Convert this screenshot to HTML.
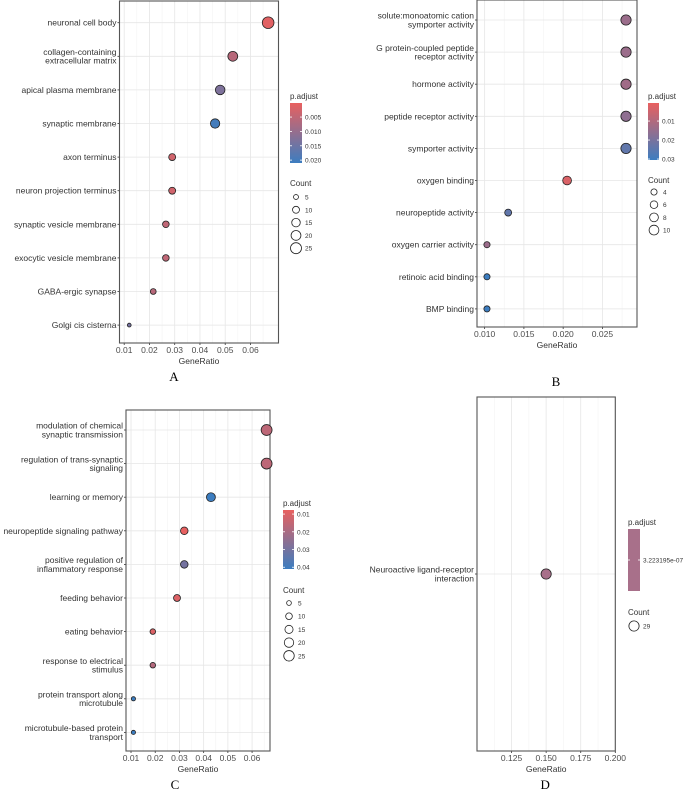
<!DOCTYPE html>
<html><head><meta charset="utf-8"><style>
body{margin:0;background:#fff}
svg{display:block;font-family:"Liberation Sans",Arial,sans-serif}
</style></head><body>
<svg id="fig" width="685" height="791" viewBox="0 0 685 791">
<defs>
<linearGradient id="gA" x1="0" y1="0" x2="0" y2="1"><stop offset="0" stop-color="#E8605F"/><stop offset="1" stop-color="#3C7DC0"/></linearGradient>
</defs>
<rect width="685" height="791" fill="#fff"/>
</svg>
<script>
// ---------- Panel A data ----------
const aTerms = [["neuronal cell body"],["collagen-containing","extracellular matrix"],["apical plasma membrane"],["synaptic membrane"],["axon terminus"],["neuron projection terminus"],["synaptic vesicle membrane"],["exocytic vesicle membrane"],["GABA-ergic synapse"],["Golgi cis cisterna"]];
const aRatio = [0.067,0.053,0.048,0.046,0.029,0.029,0.0265,0.0265,0.0215,0.012];
const aCount = [28,20,19,18,10,10,9,9,7,3];
const aPadj = [0.001,0.006,0.013,0.020,0.003,0.003,0.005,0.005,0.006,0.014];
const aTicks = [0.01,0.02,0.03,0.04,0.05,0.06];
const aTickLabels = ["0.01","0.02","0.03","0.04","0.05","0.06"];
const aCbTicks = [0.005,0.010,0.015,0.020];
const aCbLabels = ["0.005","0.010","0.015","0.020"];
const aSizeLegend = [5,10,15,20,25];
// ---------- Panel B data ----------
const bTerms = [["solute:monoatomic cation","symporter activity"],["G protein-coupled peptide","receptor activity"],["hormone activity"],["peptide receptor activity"],["symporter activity"],["oxygen binding"],["neuropeptide activity"],["oxygen carrier activity"],["retinoic acid binding"],["BMP binding"]];
const bRatio = [0.028,0.028,0.028,0.028,0.028,0.0205,0.013,0.0103,0.0103,0.0103];
const bCount = [11,11,11,11,11,8,5,4,4,4];
const bPadj = [0.014,0.014,0.013,0.016,0.024,0.003,0.024,0.014,0.031,0.031];
const bTicks = [0.010,0.015,0.020,0.025];
const bTickLabels = ["0.010","0.015","0.020","0.025"];
const bCbTicks = [0.01,0.02,0.03];
const bCbLabels = ["0.01","0.02","0.03"];
const bSizeLegend = [4,6,8,10];
// ---------- Panel C data ----------
const cTerms = [["modulation of chemical","synaptic transmission"],["regulation of trans-synaptic","signaling"],["learning or memory"],["neuropeptide signaling pathway"],["positive regulation of","inflammatory response"],["feeding behavior"],["eating behavior"],["response to electrical","stimulus"],["protein transport along","microtubule"],["microtubule-based protein","transport"]];
const cRatio = [0.066,0.066,0.043,0.032,0.032,0.029,0.019,0.019,0.011,0.011];
const cCount = [27,27,18,13,13,11,7,7,4,4];
const cPadj = [0.016,0.016,0.042,0.008,0.030,0.010,0.010,0.018,0.042,0.042];
const cTicks = [0.01,0.02,0.03,0.04,0.05,0.06];
const cTickLabels = ["0.01","0.02","0.03","0.04","0.05","0.06"];
const cCbTicks = [0.01,0.02,0.03,0.04];
const cCbLabels = ["0.01","0.02","0.03","0.04"];
const cSizeLegend = [5,10,15,20,25];
// ---------- Panel D data ----------
const dTerms = [["Neuroactive ligand-receptor","interaction"]];
const dRatio = [0.150];
const dCount = [29];
const dPadj = [3.223195e-07];
const dTicks = [0.125,0.150,0.175,0.200];
const dTickLabels = ["0.125","0.150","0.175","0.200"];
const dCbLabels = ["3.223195e-07"];
const dSizeLegend = [29];

const NS="http://www.w3.org/2000/svg";
const svg=document.getElementById('fig');
function mk(tag,attrs,parent){const e=document.createElementNS(NS,tag);for(const k in attrs)e.setAttribute(k,attrs[k]);(parent||svg).appendChild(e);return e;}
function lerpColor(t){t=Math.max(0,Math.min(1,t));const a=[232,96,95],b=[60,125,192];return 'rgb('+a.map((v,i)=>Math.round(v+(b[i]-v)*t)).join(',')+')';}

function panel(P){
  const g=mk('g',{});
  
  
  const xs=v=>P.x0+(v-P.xmin)/(P.xmax-P.xmin)*(P.x1-P.x0);
  const ys=i=>P.rowFirst+i*P.rowStep;
  // minor grid
  for(let i=0;i<P.ticks.length+1;i++){
    const step=P.ticks.length>1?P.ticks[1]-P.ticks[0]:0.025;
    const v=(i<P.ticks.length?P.ticks[i]:P.ticks[P.ticks.length-1]+step)-step/2;
    const x=xs(v); if(x>P.x0&&x<P.x1){const l=mk('line',{x1:x,x2:x,y1:P.y0,y2:P.y1,stroke:'#f3f3f3','stroke-width':0.6},g);}
  }
  P.ticks.forEach((v,i)=>{
    const x=xs(v);
    const gl=mk('line',{x1:x,x2:x,y1:P.y0,y2:P.y1,stroke:'#e6e6e6','stroke-width':0.8},g);
    
    
    mk('line',{x1:x,x2:x,y1:P.y1,y2:P.y1+2,stroke:'#333','stroke-width':0.8},g);
    const t=mk('text',{x:x,y:P.y1+10,'font-size':8.5,fill:'#4d4d4d','text-anchor':'middle'},g);
    t.textContent=P.tickLabels[i];
    
    
  });
  P.terms.forEach((lines,i)=>{
    const y=ys(i);
    mk('line',{x1:P.x0,x2:P.x1,y1:y,y2:y,stroke:'#e6e6e6','stroke-width':0.8},g);
    mk('line',{x1:P.x0-2,x2:P.x0,y1:y,y2:y,stroke:'#333','stroke-width':0.8},g);
    const t=mk('text',{x:P.x0-3,y:y+3-(lines.length-1)*4.3,'font-size':8.5,fill:'#333','text-anchor':'end'},g);
    
    
    lines.forEach((s,j)=>{const ts=mk('tspan',{x:P.x0-3,dy:j?8.7:0},t);ts.textContent=s;});
  });
  mk('rect',{x:P.x0,y:P.y0,width:P.x1-P.x0,height:P.y1-P.y0,fill:'none',stroke:'#555','stroke-width':1.1},g);
  P.ratio.forEach((v,i)=>{
    const c=mk('circle',{cx:xs(v),cy:ys(i),r:P.k*Math.sqrt(P.count[i]),fill:P.single?P.single:lerpColor((P.padj[i]-P.cmin)/(P.cmax-P.cmin)),stroke:'#222','stroke-width':0.8},g);
    
    
  });
  const xt=mk('text',{x:(P.x0+P.x1)/2,y:P.y1+21,'font-size':8.5,fill:'#333','text-anchor':'middle'},g);
  xt.textContent='GeneRatio';
  
  
  const lt=mk('text',{x:(P.x0+P.x1)/2+P.letterDx,y:P.letterY,'font-size':13,fill:'#000','text-anchor':'middle','font-family':'Liberation Serif,serif'},g);
  lt.textContent=P.letter;
  
  
  // colorbar legend
  const cb=P.cb;
  const ct=mk('text',{x:cb.x,y:cb.y0-4,'font-size':8,fill:'#333'},g);
  ct.textContent='p.adjust';
  
  
  const bar=mk('rect',{x:cb.x,y:cb.y0,width:cb.w,height:cb.y1-cb.y0,fill:P.single?P.single:'url(#gA)'},g);
  
  
  P.cbTicks.forEach((v,i)=>{
    const y=P.single?(cb.y0+cb.y1)/2:cb.y0+(v-P.cmin)/(P.cmax-P.cmin)*(cb.y1-cb.y0);
    mk('line',{x1:cb.x,x2:cb.x+2,y1:y,y2:y,stroke:'#fff','stroke-width':0.8},g);
    mk('line',{x1:cb.x+cb.w-2,x2:cb.x+cb.w,y1:y,y2:y,stroke:'#fff','stroke-width':0.8},g);
    const t=mk('text',{x:cb.x+cb.w+3,y:y+2.5,'font-size':6.5,fill:'#333'},g);
    t.textContent=P.cbLabels[i];
    
    
  });
  const st=mk('text',{x:cb.x,y:P.sz.title,'font-size':8,fill:'#333'},g);
  st.textContent='Count';
  
  
  P.sizeLegend.forEach((c,i)=>{
    const y=P.sz.first+i*P.sz.step;
    const ci=mk('circle',{cx:cb.x+6,cy:y,r:P.k*Math.sqrt(c),fill:'none',stroke:'#222','stroke-width':0.8},g);
    
    
    const t=mk('text',{x:cb.x+15,y:y+2.5,'font-size':6.5,fill:'#333'},g);
    t.textContent=String(c);
    
    
  });
}

panel({name:'panel-a',letter:'A',letterY:381,letterDx:-25,x0:119.5,x1:278.5,y0:1,y1:343,xmin:0.00814,xmax:0.0711,rowFirst:22.7,rowStep:33.6,
  terms:aTerms,ratio:aRatio,count:aCount,padj:aPadj,ticks:aTicks,tickLabels:aTickLabels,k:1.1,cmin:0.0001,cmax:0.021,
  cbTicks:aCbTicks,cbLabels:aCbLabels,cb:{x:290,w:12,y0:103,y1:163},sizeLegend:aSizeLegend,sz:{title:186,first:197,step:12.8}});
panel({name:'panel-b',letter:'B',letterY:386,letterDx:-1,x0:477,x1:637,y0:0,y1:327,xmin:0.00903,xmax:0.0294,rowFirst:20,rowStep:32.1,
  terms:bTerms,ratio:bRatio,count:bCount,padj:bPadj,ticks:bTicks,tickLabels:bTickLabels,k:1.55,cmin:0.0005,cmax:0.0305,
  cbTicks:bCbTicks,cbLabels:bCbLabels,cb:{x:648,w:11,y0:103,y1:160},sizeLegend:bSizeLegend,sz:{title:183,first:192,step:12.7}});
panel({name:'panel-c',letter:'C',letterY:789,letterDx:-23,x0:126,x1:270,y0:410,y1:751,xmin:0.00793,xmax:0.0674,rowFirst:430,rowStep:33.6,
  terms:cTerms,ratio:cRatio,count:cCount,padj:cPadj,ticks:cTicks,tickLabels:cTickLabels,k:1.05,cmin:0.0077,cmax:0.041,
  cbTicks:cCbTicks,cbLabels:cCbLabels,cb:{x:283,w:11,y0:510,y1:569},sizeLegend:cSizeLegend,sz:{title:593,first:603,step:13.2}});
panel({name:'panel-d',letter:'D',letterY:789,letterDx:-1,x0:477,x1:615.3,y0:397,y1:751,xmin:0.1,xmax:0.2,rowFirst:574,rowStep:0,
  terms:dTerms,ratio:dRatio,count:dCount,padj:dPadj,ticks:dTicks,tickLabels:dTickLabels,k:0.95,single:'#A8708A',cmin:0,cmax:1,
  cbTicks:[0],cbLabels:dCbLabels,cb:{x:628,w:12,y0:529,y1:591},sizeLegend:dSizeLegend,sz:{title:615,first:626,step:0}});
</script>
</body></html>
